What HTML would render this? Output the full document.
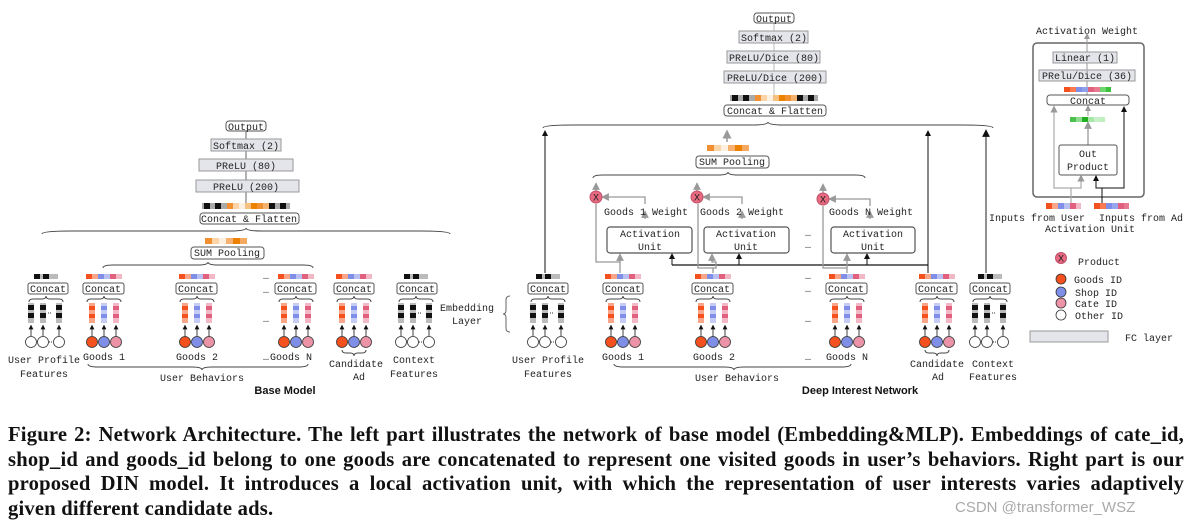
<!DOCTYPE html>
<html><head><meta charset="utf-8"><style>
body{margin:0;background:#fff;width:1190px;height:529px;overflow:hidden;position:relative}
svg{position:absolute;left:0;top:0}
.m{font-family:"Liberation Mono","DejaVu Sans Mono",monospace;font-size:10px;fill:#222}
.b{font-family:"Liberation Sans",sans-serif;font-size:11px;font-weight:bold;fill:#111}
#cap{position:absolute;left:8px;top:423px;width:1176px;font-family:"Liberation Serif",serif;font-weight:bold;font-size:20.6px;line-height:24.5px;color:#111;letter-spacing:0.2px}
#cap div{text-align:justify;text-align-last:justify;white-space:nowrap}
#cap div.l{text-align-last:left}
#wm{position:absolute;left:955px;top:499px;font-family:"Liberation Sans",sans-serif;font-size:15px;color:#aaa}
</style></head><body>
<svg width="1190" height="529" viewBox="0 0 1190 529">
<defs>
<marker id="ah" markerWidth="6" markerHeight="6" refX="3" refY="3" orient="auto"><path d="M0,0 L6,3 L0,6z" fill="#111"/></marker>
<marker id="ag" markerWidth="6" markerHeight="6" refX="3" refY="3" orient="auto"><path d="M0,0 L6,3 L0,6z" fill="#999"/></marker>
<g id="gbar"><rect x="-18" y="0" width="6" height="5" fill="#f4511e"/><rect x="-12" y="0" width="6" height="5" fill="#f9a58a"/><rect x="-6" y="0" width="6" height="5" fill="#7f8fe8"/><rect x="0" y="0" width="6" height="5" fill="#b8c0f2"/><rect x="6" y="0" width="6" height="5" fill="#e0607e"/><rect x="12" y="0" width="6" height="5" fill="#f2b8c6"/></g>
<g id="kbar"><rect x="-12" y="0" width="6" height="5" fill="#111"/><rect x="-6" y="0" width="3" height="5" fill="#bbb"/><rect x="-3" y="0" width="6" height="5" fill="#111"/><rect x="3" y="0" width="9" height="5" fill="#bbb"/></g>
<g id="sbrace"><path d="M-17,302 q0,-3 4,-3 h9 q4,0 4,-3 q0,3 4,3 h9 q4,0 4,3" fill="none" stroke="#444" stroke-width="1"/></g>
<g id="gcols">
<rect x="-15" y="303" width="6" height="20" fill="#f9a58a"/><rect x="-15" y="306" width="6" height="4" fill="#f4511e"/><rect x="-15" y="314" width="6" height="4" fill="#f4511e"/>
<rect x="-3" y="303" width="6" height="20" fill="#c5ccf5"/><rect x="-3" y="306" width="6" height="4" fill="#7f8fe8"/><rect x="-3" y="314" width="6" height="4" fill="#7f8fe8"/>
<rect x="9" y="303" width="6" height="20" fill="#f2b8c6"/><rect x="9" y="306" width="6" height="4" fill="#e0607e"/><rect x="9" y="314" width="6" height="4" fill="#e0607e"/>
<line x1="-12" y1="337" x2="-12" y2="327" stroke="#111" stroke-width=".8" marker-end="url(#ah)"/>
<line x1="0" y1="337" x2="0" y2="327" stroke="#111" stroke-width=".8" marker-end="url(#ah)"/>
<line x1="12" y1="337" x2="12" y2="327" stroke="#111" stroke-width=".8" marker-end="url(#ah)"/>
<circle cx="-12" cy="342" r="5.5" fill="#f4511e" stroke="#333" stroke-width=".8"/>
<circle cx="0" cy="342" r="5.5" fill="#7f8fe8" stroke="#333" stroke-width=".8"/>
<circle cx="12" cy="342" r="5.5" fill="#ec93a8" stroke="#333" stroke-width=".8"/>
</g>
<g id="kcols">
<rect x="-15" y="303" width="6" height="20" fill="#bbb"/><rect x="-15" y="305" width="6" height="5" fill="#111"/><rect x="-15" y="313" width="6" height="5" fill="#111"/>
<rect x="-3" y="303" width="6" height="20" fill="#bbb"/><rect x="-3" y="305" width="6" height="5" fill="#111"/><rect x="-3" y="313" width="6" height="5" fill="#111"/>
<rect x="13" y="303" width="6" height="20" fill="#bbb"/><rect x="13" y="305" width="6" height="5" fill="#111"/><rect x="13" y="313" width="6" height="5" fill="#111"/>
<line x1="-12" y1="336" x2="-12" y2="327" stroke="#111" stroke-width=".8" marker-end="url(#ah)"/>
<line x1="0" y1="336" x2="0" y2="327" stroke="#111" stroke-width=".8" marker-end="url(#ah)"/>
<line x1="16" y1="336" x2="16" y2="327" stroke="#111" stroke-width=".8" marker-end="url(#ah)"/>
<circle cx="-12" cy="342" r="5.5" fill="#fff" stroke="#333" stroke-width=".8"/>
<circle cx="0" cy="342" r="5.5" fill="#fff" stroke="#333" stroke-width=".8"/>
<circle cx="16" cy="342" r="5.5" fill="#fff" stroke="#333" stroke-width=".8"/>
<line x1="6" y1="342" x2="10" y2="342" stroke="#333" stroke-dasharray="1,1"/>
<line x1="5" y1="313" x2="9" y2="313" stroke="#333" stroke-dasharray="1,1"/>
</g>
<g id="fbar"><rect x="0" y="0" width="88" height="6" fill="#aaa"/><rect x="2" y="0" width="6" height="6" fill="#111"/><rect x="13" y="0" width="6" height="6" fill="#111"/><rect x="25" y="0" width="6" height="6" fill="#f09030"/><rect x="31" y="0" width="6" height="6" fill="#fbd5a8"/><rect x="37" y="0" width="6" height="6" fill="#fdf0e0"/><rect x="43" y="0" width="6" height="6" fill="#f8c080"/><rect x="49" y="0" width="6" height="6" fill="#ec8200"/><rect x="55" y="0" width="6" height="6" fill="#f09030"/><rect x="61" y="0" width="6" height="6" fill="#f6b070"/><rect x="67" y="0" width="6" height="6" fill="#111"/><rect x="78" y="0" width="6" height="6" fill="#111"/></g>
<g id="obar"><rect x="0" y="0" width="7" height="6" fill="#f09030"/><rect x="7" y="0" width="7" height="6" fill="#fbd5a8"/><rect x="14" y="0" width="7" height="6" fill="#fdf0e0"/><rect x="21" y="0" width="7" height="6" fill="#f6b070"/><rect x="28" y="0" width="7" height="6" fill="#ec8200"/><rect x="35" y="0" width="7" height="6" fill="#f4a860"/></g>
</defs>

<!-- ===== BASE MODEL ===== -->
<g stroke="#666" fill="none" stroke-width="1"><line x1="246" y1="131" x2="246" y2="203"/></g>
<rect x="226" y="121" width="40" height="10" rx="3" fill="#fff" stroke="#555"/><text class="m" x="246" y="130" text-anchor="middle">Output</text>
<rect x="211" y="139" width="70" height="12" fill="#e4e5ea" stroke="#999"/><text class="m" x="246" y="149" text-anchor="middle">Softmax (2)</text>
<rect x="199" y="159" width="94" height="12" fill="#e4e5ea" stroke="#999"/><text class="m" x="246" y="169" text-anchor="middle">PReLU (80)</text>
<rect x="196" y="180" width="103" height="12" fill="#e4e5ea" stroke="#999"/><text class="m" x="246" y="190" text-anchor="middle">PReLU (200)</text>
<use href="#fbar" x="202" y="203"/>
<rect x="200" y="213" width="99" height="11" rx="3" fill="#fff" stroke="#555"/><text class="m" x="249" y="222" text-anchor="middle">Concat &amp; Flatten</text>
<path d="M42,234 q0,-3 30,-3 H230 q16,0 16,-3 q0,3 16,3 H420 q30,0 30,3" fill="none" stroke="#444"/>
<use href="#obar" x="205" y="238"/>
<rect x="191" y="247" width="73" height="12" rx="3" fill="#fff" stroke="#555"/><text class="m" x="227" y="256" text-anchor="middle">SUM Pooling</text>
<path d="M103,268 q0,-3 10,-3 H198 q10,0 10,-3 q0,3 10,3 H303 q10,0 10,3" fill="none" stroke="#444"/>

<use href="#kbar" x="46" y="274"/><rect x="28" y="283" width="40" height="11" rx="2" fill="#fff" stroke="#555"/><text class="m" x="48" y="292" text-anchor="middle">Concat</text><use href="#sbrace" x="46"/><use href="#kcols" x="43"/>
<use href="#gbar" x="104" y="274"/><rect x="83" y="283" width="41" height="11" rx="2" fill="#fff" stroke="#555"/><text class="m" x="103" y="292" text-anchor="middle">Concat</text><use href="#sbrace" x="104"/><use href="#gcols" x="104"/>
<use href="#gbar" x="197" y="274"/><rect x="176" y="283" width="41" height="11" rx="2" fill="#fff" stroke="#555"/><text class="m" x="196" y="292" text-anchor="middle">Concat</text><use href="#sbrace" x="197"/><use href="#gcols" x="197"/>
<use href="#gbar" x="296" y="274"/><rect x="275" y="283" width="41" height="11" rx="2" fill="#fff" stroke="#555"/><text class="m" x="295" y="292" text-anchor="middle">Concat</text><use href="#sbrace" x="296"/><use href="#gcols" x="296"/>
<use href="#gbar" x="354" y="274"/><rect x="334" y="283" width="40" height="11" rx="2" fill="#fff" stroke="#555"/><text class="m" x="354" y="292" text-anchor="middle">Concat</text><use href="#sbrace" x="354"/><use href="#gcols" x="354"/>
<use href="#kbar" x="416" y="274"/><rect x="397" y="283" width="40" height="11" rx="2" fill="#fff" stroke="#555"/><text class="m" x="417" y="292" text-anchor="middle">Concat</text><use href="#sbrace" x="416"/><use href="#kcols" x="413"/>
<text class="m" x="263" y="279">…</text><text class="m" x="263" y="293">…</text><text class="m" x="263" y="322">…</text><text class="m" x="263" y="360">…</text>
<path d="M342,350 q0,3 4,3 h4 q4,0 4,3 q0,-3 4,-3 h4 q4,0 4,-3" fill="none" stroke="#444"/>
<text class="m" x="44" y="363" text-anchor="middle">User Profile</text><text class="m" x="44" y="377" text-anchor="middle">Features</text>
<text class="m" x="104" y="360" text-anchor="middle">Goods 1</text>
<text class="m" x="197" y="360" text-anchor="middle">Goods 2</text>
<text class="m" x="291" y="360" text-anchor="middle">Goods N</text>
<path d="M88,364 q0,3 10,3 H192 q10,0 10,3 q0,-3 10,-3 H298 q10,0 10,-3" fill="none" stroke="#444"/>
<text class="m" x="202" y="381" text-anchor="middle">User Behaviors</text>
<text class="m" x="356" y="367" text-anchor="middle">Candidate</text><text class="m" x="359" y="380" text-anchor="middle">Ad</text>
<text class="m" x="414" y="363" text-anchor="middle">Context</text><text class="m" x="414" y="377" text-anchor="middle">Features</text>
<text class="b" x="285" y="394" text-anchor="middle">Base Model</text>

<!-- ===== DIN ===== -->
<line x1="774" y1="23" x2="774" y2="95" stroke="#bbb"/>
<rect x="754" y="13" width="40" height="10" rx="3" fill="#fff" stroke="#555"/><text class="m" x="774" y="22" text-anchor="middle">Output</text>
<rect x="739" y="31" width="69" height="12" fill="#e4e5ea" stroke="#999"/><text class="m" x="774" y="41" text-anchor="middle">Softmax (2)</text>
<rect x="727" y="51" width="93" height="12" fill="#e4e5ea" stroke="#999"/><text class="m" x="774" y="61" text-anchor="middle">PReLU/Dice (80)</text>
<rect x="724" y="71" width="102" height="12" fill="#e4e5ea" stroke="#999"/><text class="m" x="775" y="81" text-anchor="middle">PReLU/Dice (200)</text>
<use href="#fbar" x="730" y="95"/>
<rect x="724" y="105" width="102" height="11" rx="3" fill="#fff" stroke="#555"/><text class="m" x="775" y="114" text-anchor="middle">Concat &amp; Flatten</text>
<path d="M543,128 q0,-3 30,-3 H752 q16,0 16,-3 q0,3 16,3 H963 q30,0 30,3" fill="none" stroke="#444"/>
<line x1="727" y1="142" x2="727" y2="134" stroke="#999" stroke-width="1.5" marker-end="url(#ag)"/>
<use href="#obar" x="707" y="145"/>
<rect x="696" y="156" width="73" height="12" rx="3" fill="#fff" stroke="#555"/><text class="m" x="732" y="165" text-anchor="middle">SUM Pooling</text>
<path d="M593,178 q0,-3 10,-3 H718 q10,0 10,-3 q0,3 10,3 H855 q10,0 10,3" fill="none" stroke="#444"/>
<line x1="545" y1="273" x2="545" y2="133" stroke="#111" marker-end="url(#ah)"/>
<line x1="928" y1="273" x2="928" y2="133" stroke="#111" marker-end="url(#ah)"/>
<line x1="986" y1="273" x2="986" y2="133" stroke="#555" stroke-width="1.3" marker-end="url(#ah)"/>
<line x1="672" y1="265" x2="928" y2="265" stroke="#111" stroke-width="1.2"/>
<line x1="672" y1="265" x2="672" y2="256" stroke="#111" marker-end="url(#ah)"/>
<line x1="739" y1="265" x2="739" y2="256" stroke="#111" marker-end="url(#ah)"/>
<line x1="867" y1="265" x2="867" y2="256" stroke="#111" marker-end="url(#ah)"/>
<g stroke="#999" stroke-width="1.3" fill="none">
<path d="M620,273 V262 H596 V204"/><line x1="620" y1="262" x2="620" y2="257" marker-end="url(#ag)"/>
<path d="M713,273 V268 H698 V204"/><path d="M713,268 H716 V262 H712 V257" marker-end="url(#ag)"/>
<path d="M847,273 V268 H823 V206"/><path d="M847,268 V257" marker-end="url(#ag)"/>
<line x1="596" y1="191" x2="596" y2="186" marker-end="url(#ag)"/>
<line x1="697" y1="191" x2="697" y2="186" marker-end="url(#ag)"/>
<line x1="823" y1="193" x2="823" y2="187" marker-end="url(#ag)"/>
<path d="M645,219 V214" marker-end="url(#ag)"/><path d="M645,204 V197 H605" marker-end="url(#ag)"/>
<path d="M742,219 V214" marker-end="url(#ag)"/><path d="M742,204 V197 H706" marker-end="url(#ag)"/>
<path d="M870,219 V214" marker-end="url(#ag)"/><path d="M870,206 V199 H832" marker-end="url(#ag)"/>
</g>
<g fill="#e86a80" stroke="#c0506a"><circle cx="596" cy="197" r="6"/><circle cx="697" cy="197" r="6"/><circle cx="823" cy="199" r="6"/></g>
<text class="m" x="596" y="200.5" text-anchor="middle" font-size="9">X</text><text class="m" x="697" y="200.5" text-anchor="middle" font-size="9">X</text><text class="m" x="823" y="202.5" text-anchor="middle" font-size="9">X</text>
<text class="m" x="646" y="215" text-anchor="middle">Goods 1 Weight</text>
<text class="m" x="742" y="215" text-anchor="middle">Goods 2 Weight</text>
<text class="m" x="871" y="215" text-anchor="middle">Goods N Weight</text>
<rect x="607" y="227" width="85" height="26" rx="3" fill="#fff" stroke="#555" stroke-width="1.2"/><text class="m" x="650" y="237" text-anchor="middle">Activation</text><text class="m" x="650" y="250" text-anchor="middle">Unit</text>
<rect x="704" y="227" width="85" height="26" rx="3" fill="#fff" stroke="#555" stroke-width="1.2"/><text class="m" x="746" y="237" text-anchor="middle">Activation</text><text class="m" x="746" y="250" text-anchor="middle">Unit</text>
<rect x="831" y="227" width="84" height="26" rx="3" fill="#fff" stroke="#555" stroke-width="1.2"/><text class="m" x="873" y="237" text-anchor="middle">Activation</text><text class="m" x="873" y="250" text-anchor="middle">Unit</text>
<text class="m" x="805" y="236">…</text><text class="m" x="805" y="248">…</text>

<use href="#kbar" x="548" y="274"/><rect x="528" y="283" width="40" height="11" rx="2" fill="#fff" stroke="#555"/><text class="m" x="548" y="292" text-anchor="middle">Concat</text><use href="#sbrace" x="548"/><use href="#kcols" x="545"/>
<use href="#gbar" x="623" y="274"/><rect x="603" y="283" width="40" height="11" rx="2" fill="#fff" stroke="#555"/><text class="m" x="623" y="292" text-anchor="middle">Concat</text><use href="#sbrace" x="623"/><use href="#gcols" x="623"/>
<use href="#gbar" x="713" y="274"/><rect x="692" y="283" width="41" height="11" rx="2" fill="#fff" stroke="#555"/><text class="m" x="712" y="292" text-anchor="middle">Concat</text><use href="#sbrace" x="713"/><use href="#gcols" x="713"/>
<use href="#gbar" x="847" y="274"/><rect x="826" y="283" width="41" height="11" rx="2" fill="#fff" stroke="#555"/><text class="m" x="846" y="292" text-anchor="middle">Concat</text><use href="#sbrace" x="847"/><use href="#gcols" x="847"/>
<use href="#gbar" x="937" y="274"/><rect x="916" y="283" width="41" height="11" rx="2" fill="#fff" stroke="#555"/><text class="m" x="936" y="292" text-anchor="middle">Concat</text><use href="#sbrace" x="937"/><use href="#gcols" x="937"/>
<use href="#kbar" x="990" y="274"/><rect x="970" y="283" width="40" height="11" rx="2" fill="#fff" stroke="#555"/><text class="m" x="990" y="292" text-anchor="middle">Concat</text><use href="#sbrace" x="990"/><use href="#kcols" x="987"/>
<text class="m" x="805" y="279">…</text><text class="m" x="805" y="292">…</text><text class="m" x="805" y="322">…</text><text class="m" x="805" y="360">…</text>
<text class="m" x="467" y="311" text-anchor="middle">Embedding</text><text class="m" x="467" y="324" text-anchor="middle">Layer</text>
<path d="M510,296 q-4,0 -4,4 v10 q0,4 -3,4 q3,0 3,4 v10 q0,4 4,4" fill="none" stroke="#666"/>
<path d="M925,350 q0,3 4,3 h4 q4,0 4,3 q0,-3 4,-3 h4 q4,0 4,-3" fill="none" stroke="#444"/>
<text class="m" x="548" y="363" text-anchor="middle">User Profile</text><text class="m" x="548" y="377" text-anchor="middle">Features</text>
<text class="m" x="623" y="360" text-anchor="middle">Goods 1</text>
<text class="m" x="714" y="360" text-anchor="middle">Goods 2</text>
<text class="m" x="847" y="360" text-anchor="middle">Goods N</text>
<path d="M614,364 q0,3 10,3 H724 q10,0 10,3 q0,-3 10,-3 H841 q10,0 10,-3" fill="none" stroke="#444"/>
<text class="m" x="737" y="381" text-anchor="middle">User Behaviors</text>
<text class="m" x="937" y="367" text-anchor="middle">Candidate</text><text class="m" x="938" y="380" text-anchor="middle">Ad</text>
<text class="m" x="993" y="367" text-anchor="middle">Context</text><text class="m" x="993" y="380" text-anchor="middle">Features</text>
<text class="b" x="860" y="394" text-anchor="middle">Deep Interest Network</text>

<!-- ===== Activation unit detail ===== -->
<text class="m" x="1087" y="34" text-anchor="middle">Activation Weight</text>
<rect x="1033" y="43" width="111" height="154" rx="4" fill="#fff" stroke="#666" stroke-width="1.5"/>
<line x1="1087" y1="95" x2="1087" y2="36" stroke="#999" marker-end="url(#ag)"/>
<rect x="1053" y="52" width="64" height="11" fill="#e4e5ea" stroke="#999"/><text class="m" x="1085" y="61" text-anchor="middle">Linear (1)</text>
<rect x="1039" y="70" width="96" height="11" fill="#e4e5ea" stroke="#999"/><text class="m" x="1087" y="79" text-anchor="middle">PRelu/Dice (36)</text>
<g><rect x="1064" y="87" width="6" height="5" fill="#f4511e"/><rect x="1070" y="87" width="6" height="5" fill="#f97a4e"/><rect x="1076" y="87" width="6" height="5" fill="#7f8fe8"/><rect x="1082" y="87" width="6" height="5" fill="#8fa0ea"/><rect x="1088" y="87" width="6" height="5" fill="#e0607e"/><rect x="1094" y="87" width="6" height="5" fill="#e87a90"/><rect x="1100" y="87" width="6" height="5" fill="#6cd66c"/><rect x="1106" y="87" width="5" height="5" fill="#3cc03c"/></g>
<rect x="1047" y="95" width="82" height="10" rx="3" fill="#fff" stroke="#555"/><text class="m" x="1088" y="104" text-anchor="middle">Concat</text>
<g><rect x="1070" y="117" width="6" height="5" fill="#4cc04c"/><rect x="1076" y="117" width="6" height="5" fill="#8fdc8f"/><rect x="1082" y="117" width="6" height="5" fill="#22b022"/><rect x="1088" y="117" width="6" height="5" fill="#a8e6a8"/><rect x="1094" y="117" width="6" height="5" fill="#c8f0c8"/><rect x="1100" y="117" width="5" height="5" fill="#bfeebf"/></g>
<line x1="1088" y1="116" x2="1088" y2="108" stroke="#999" marker-end="url(#ag)"/>
<line x1="1088" y1="145" x2="1088" y2="125" stroke="#999" stroke-width="1.3" marker-end="url(#ag)"/>
<rect x="1059" y="145" width="58" height="30" rx="2" fill="#fff" stroke="#555"/><text class="m" x="1088" y="157" text-anchor="middle">Out</text><text class="m" x="1088" y="170" text-anchor="middle">Product</text>
<g stroke="#aaa" fill="none" stroke-width="1.2">
<path d="M1071,203 V188 H1054 V109" marker-end="url(#ag)"/><path d="M1071,188 H1081 V178" marker-end="url(#ag)"/>
</g>
<g stroke="#111" fill="none" stroke-width="1">
<path d="M1102,203 V188 H1124 V109" marker-end="url(#ah)"/><path d="M1102,188 H1096 V178" marker-end="url(#ah)"/>
</g>
<g><rect x="1046" y="203" width="6" height="6" fill="#f4511e"/><rect x="1052" y="203" width="6" height="6" fill="#f9a58a"/><rect x="1058" y="203" width="6" height="6" fill="#7f8fe8"/><rect x="1064" y="203" width="6" height="6" fill="#b8c0f2"/><rect x="1070" y="203" width="6" height="6" fill="#e0607e"/><rect x="1076" y="203" width="5" height="6" fill="#f2b8c6"/></g>
<g><rect x="1094" y="203" width="6" height="6" fill="#f4511e"/><rect x="1100" y="203" width="6" height="6" fill="#f97a4e"/><rect x="1106" y="203" width="6" height="6" fill="#7f8fe8"/><rect x="1112" y="203" width="6" height="6" fill="#98a6ee"/><rect x="1118" y="203" width="6" height="6" fill="#e0607e"/><rect x="1124" y="203" width="5" height="6" fill="#e87a90"/></g>
<text class="m" x="1037" y="221" text-anchor="middle">Inputs from User</text>
<text class="m" x="1141" y="221" text-anchor="middle">Inputs from Ad</text>
<text class="m" x="1090" y="232" text-anchor="middle">Activation Unit</text>
<circle cx="1061" cy="258" r="5.5" fill="#e86a80" stroke="#c0506a"/><text class="m" x="1061" y="261.5" text-anchor="middle" font-size="9">X</text><text class="m" x="1078" y="265">Product</text>
<circle cx="1061" cy="279" r="5" fill="#f4511e" stroke="#333" stroke-width=".8"/><text class="m" x="1074" y="283">Goods ID</text>
<circle cx="1061" cy="292" r="5" fill="#7f8fe8" stroke="#333" stroke-width=".8"/><text class="m" x="1075" y="296">Shop ID</text>
<circle cx="1061" cy="303" r="5" fill="#ec93a8" stroke="#333" stroke-width=".8"/><text class="m" x="1075" y="307">Cate ID</text>
<circle cx="1061" cy="315" r="5" fill="#fff" stroke="#333" stroke-width=".8"/><text class="m" x="1075" y="319">Other ID</text>
<rect x="1030" y="331" width="78" height="11" fill="#e4e5ea" stroke="#999"/><text class="m" x="1125" y="341">FC layer</text>
</svg>
<div id="cap">
<div>Figure 2: Network Architecture. The left part illustrates the network of base model (Embedding&amp;MLP). Embeddings of cate_id,</div>
<div>shop_id and goods_id belong to one goods are concatenated to represent one visited goods in user’s behaviors. Right part is our</div>
<div>proposed DIN model. It introduces a local activation unit, with which the representation of user interests varies adaptively</div>
<div class="l">given different candidate ads.</div>
</div>
<div id="wm">CSDN @transformer_WSZ</div>
</body></html>
